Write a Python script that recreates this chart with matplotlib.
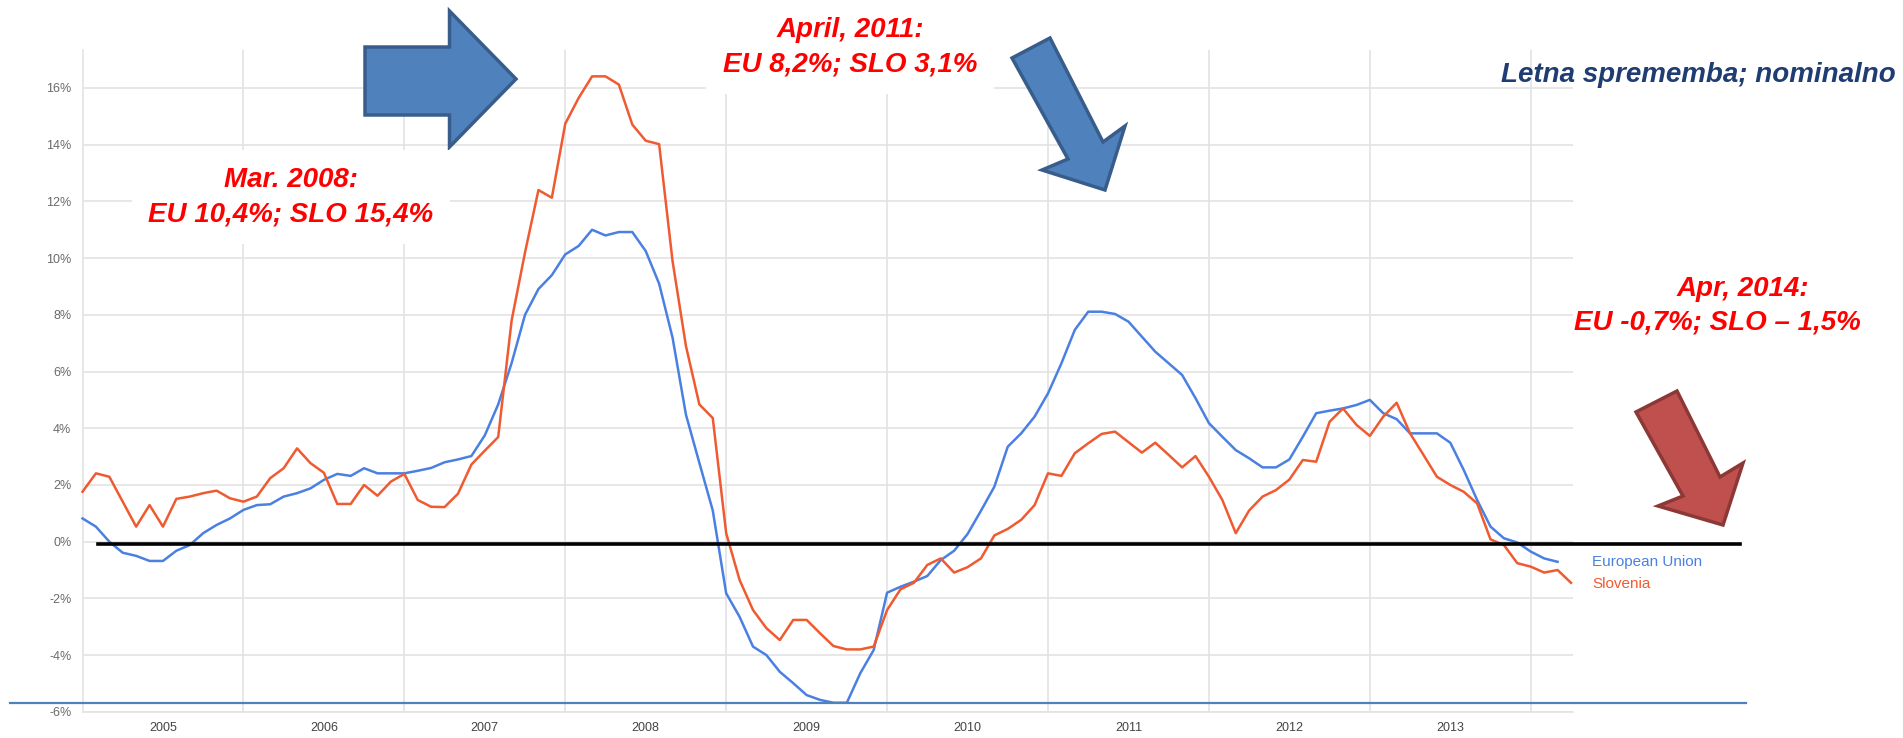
import matplotlib
matplotlib.use('Agg')
import matplotlib.pyplot as plt
from matplotlib.patches import Polygon
from matplotlib.lines import Line2D
import numpy as np

plt.rcParams['font.family'] = ['Liberation Sans', 'DejaVu Sans']

# ---------------- data (monthly, Jan 2005 onwards, % y/y) ----------------
years = ['2005', '2006', '2007', '2008', '2009', '2010', '2011', '2012', '2013']

eu = [0.82, 0.53, 0.00, -0.39, -0.50, -0.68, -0.68, -0.32, -0.12, 0.30, 0.59, 0.82,
      1.12, 1.29, 1.32, 1.59, 1.71, 1.88, 2.18, 2.39, 2.32, 2.59, 2.41, 2.41,
      2.41, 2.50, 2.60, 2.80, 2.90, 3.02, 3.75, 4.84, 6.30, 8.00, 8.91, 9.40,
      10.13, 10.43, 11.00, 10.80, 10.92, 10.92, 10.25, 9.10, 7.20, 4.48, 2.78, 1.10,
      -1.82, -2.65, -3.70, -4.00, -4.59, -4.99, -5.41, -5.58, -5.68, -5.68, -4.64, -3.82,
      -1.80, -1.59, -1.41, -1.21, -0.65, -0.32, 0.27, 1.09, 1.94, 3.35, 3.82, 4.41,
      5.23, 6.29, 7.47, 8.11, 8.11, 8.03, 7.76, 7.23, 6.70, 6.29, 5.88, 5.06,
      4.18, 3.70, 3.23, 2.94, 2.62, 2.62, 2.90, 3.70, 4.53, 4.62, 4.70, 4.82,
      5.00, 4.53, 4.32, 3.82, 3.82, 3.82, 3.49, 2.53, 1.47, 0.53, 0.12, -0.03,
      -0.35, -0.59, -0.71]

slo = [1.76, 2.41, 2.29, 1.41, 0.53, 1.29, 0.53, 1.51, 1.59, 1.71, 1.80, 1.53,
       1.41, 1.59, 2.24, 2.59, 3.29, 2.77, 2.43, 1.33, 1.33, 2.00, 1.62, 2.12,
       2.39, 1.47, 1.23, 1.22, 1.69, 2.72, 3.21, 3.69, 7.80, 10.20, 12.40, 12.13,
       14.74, 15.65, 16.41, 16.41, 16.12, 14.71, 14.14, 14.02, 9.90, 6.90, 4.84, 4.36,
       0.30, -1.35, -2.41, -3.05, -3.47, -2.76, -2.76, -3.23, -3.68, -3.80, -3.80, -3.70,
       -2.41, -1.68, -1.45, -0.82, -0.59, -1.09, -0.90, -0.59, 0.22, 0.45, 0.77, 1.29,
       2.41, 2.32, 3.12, 3.47, 3.80, 3.88, 3.51, 3.14, 3.49, 3.06, 2.62, 3.02,
       2.29, 1.47, 0.30, 1.10, 1.59, 1.82, 2.19, 2.88, 2.82, 4.23, 4.70, 4.12,
       3.73, 4.41, 4.90, 3.82, 3.06, 2.29, 2.00, 1.76, 1.35, 0.08, -0.12, -0.76,
       -0.88, -1.09, -1.00, -1.45]

yticks = [-6, -4, -2, 0, 2, 4, 6, 8, 10, 12, 14, 16]
series_names = ['European Union', 'Slovenia']

# ---------------- figure ----------------
W, H = 1903, 738
fig = plt.figure(figsize=(W / 100, H / 100), dpi=100)


def fx(x):
    return x / W


def fy(y):
    return 1 - y / H


EU_COL = '#4a80e2'
SLO_COL = '#f05a30'
GRID = '#e3e3e3'

ax = fig.add_axes([fx(82.5), fy(711.8), (1573 - 82.5) / W, (711.8 - 50) / H])
ax.plot(np.arange(len(eu)), eu, color=EU_COL, lw=1.8, zorder=3, clip_on=False)
ax.plot(np.arange(len(slo)), slo, color=SLO_COL, lw=1.8, zorder=3, clip_on=False)

ax.set_xlim(0, 111.15)
ax.set_ylim(-6, 17.34)
ax.set_yticks(yticks)
ax.set_yticklabels([f'{v}%' for v in yticks])
ax.set_xticks([12 * k for k in range(1, 10)])
ax.set_xticklabels([])
ax.set_xticks([6 + 12 * k for k in range(len(years))], minor=True)
ax.set_xticklabels(years, minor=True)
ax.grid(which='major', color=GRID, lw=1.2)
ax.tick_params(which='both', length=0)
ax.tick_params(axis='y', pad=8, labelsize=9, labelcolor='#6a6a6a')
ax.tick_params(axis='x', which='minor', pad=7, labelsize=9, labelcolor='#444444')
for s in ['top', 'right']:
    ax.spines[s].set_visible(False)
for s in ['left', 'bottom']:
    ax.spines[s].set_color(GRID)
    ax.spines[s].set_linewidth(1.2)

# zero line and bottom blue line (slide shapes)
fig.add_artist(Line2D([fx(98), fx(1740)], [fy(543.5), fy(543.5)], color='black', lw=2.6,
                      transform=fig.transFigure, zorder=4))
fig.add_artist(Line2D([fx(10), fx(1746)], [fy(702.7), fy(702.7)], color='#4f81bd', lw=1.6,
                      transform=fig.transFigure, zorder=4))


def arrow(pts, fc, ec):
    poly = Polygon([(fx(x), fy(y)) for x, y in pts], closed=True, fc=fc, ec=ec, lw=2.5,
                   transform=fig.transFigure, zorder=5, joinstyle='miter')
    fig.add_artist(poly)


arrow([(365, 47), (449.5, 47), (449.5, 11), (516, 79), (449.5, 147), (449.5, 115), (365, 115)],
      '#4f81bd', '#385d8a')
arrow([(1012, 58), (1050, 38), (1103, 142), (1125, 126), (1105, 190), (1042, 170), (1068, 159)],
      '#4f81bd', '#385d8a')
arrow([(1636, 412), (1677, 391), (1720, 477), (1743, 463), (1723, 525), (1658, 506), (1683, 496)],
      '#c0504d', '#8c3836')

# annotations
red_kw = dict(fontsize=20, fontweight='bold', fontstyle='italic', color='#ff0000',
              ha='center', va='center', linespacing=1.4, zorder=6)
box = dict(boxstyle='square,pad=0.6', fc='white', ec='none')
fig.text(fx(291), fy(197), 'Mar. 2008:\nEU 10,4%; SLO 15,4%', bbox=box, **red_kw)
fig.text(fx(850), fy(47), 'April, 2011:\nEU 8,2%; SLO 3,1%', bbox=box, **red_kw)
fig.text(fx(1743), fy(289), 'Apr, 2014:', **red_kw)
fig.text(fx(1717), fy(323), 'EU -0,7%; SLO – 1,5%', **red_kw)
fig.text(fx(1896), fy(75), 'Letna sprememba; nominalno', fontsize=20, fontweight='bold',
         fontstyle='italic', color='#1f3d73', ha='right', va='center', zorder=6)

# legend labels
fig.text(fx(1592), fy(562), series_names[0], fontsize=11, color=EU_COL, ha='left', va='center')
fig.text(fx(1592), fy(584), series_names[1], fontsize=11, color=SLO_COL, ha='left', va='center')

fig.savefig('out.png', dpi=100)
